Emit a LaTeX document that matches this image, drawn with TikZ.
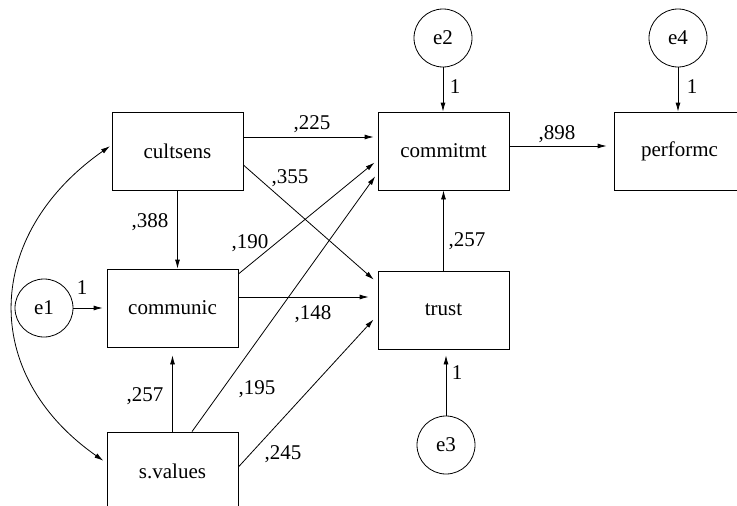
\documentclass[tikz,border=0pt]{standalone}
\usepackage{fontspec}
\setmainfont{Liberation Serif}
\usetikzlibrary{arrows.meta}
\tikzset{
  var_/.style  = {shape=rectangle, draw, minimum width=131pt, minimum height=78pt, align=center},
  err_/.style  = {shape=circle, draw, minimum size=58pt, inner sep=0pt},
  path_/.style = {draw, -{Latex[length=9pt,width=5pt]}},
  cov_/.style  = {draw, {Latex[length=9pt,width=5pt]}-{Latex[length=9pt,width=5pt]}},
  lbl_/.style  = {inner sep=0pt}
}
\begin{document}
\begin{tikzpicture}
		[
		x = 1pt, y = -1pt,
		line width = 0.8pt,
		every node/.style = {font=\fontsize{21}{25}\selectfont}
		]
		\useasboundingbox (0,0) rectangle (737,506);
		% observed variables
		\node [var_] (cultsens) at (177.5,151) {cultsens};
		\node [var_] (communic) at (172.5,308) {communic};
		\node [var_] (svalues)  at (172.5,471) {s.values};
		\node [var_] (commitmt) at (443.5,151) {commitmt};
		\node [var_] (trust)    at (443.5,310) {trust};
		\node [var_] (performc) at (679.5,151) {performc};
		% error terms
		\node [err_] (e1) at (44,308)  {e1};
		\node [err_] (e2) at (443,38)  {e2};
		\node [err_] (e3) at (446,445) {e3};
		\node [err_] (e4) at (678,38)  {e4};
		% paths
		\draw [path_, shorten >=4pt] ([yshift=14pt]cultsens.east) -- ([yshift=14pt]commitmt.west);
		\draw [path_, shorten >=5pt] ([yshift=-14pt]cultsens.east) -- ([yshift=27pt]trust.west);
		\draw [path_] (cultsens.south) -- (cultsens.south |- communic.north);
		\draw [path_, shorten >=4pt] ([yshift=34pt]communic.east) -- ([yshift=-9pt]commitmt.west);
		\draw [path_, shorten >=9pt] ([yshift=11pt]communic.east) -- ([yshift=11pt]communic.east -| trust.west);
		\draw [path_, shorten >=8pt] (svalues.north) -- (svalues.north |- communic.south);
		\draw [path_, shorten >=4pt] ([xshift=19.5pt]svalues.north) -- ([yshift=-22pt]commitmt.west);
		\draw [path_, shorten >=6pt] ([yshift=4pt]svalues.east) -- ([yshift=-5pt]trust.west);
		\draw [path_] (trust.north) -- (commitmt.south);
		\draw [path_, shorten >=7pt] ([yshift=5pt]commitmt.east) -- ([yshift=5pt]performc.west);
		\draw [path_, shorten >=4pt] (e1.east) -- (communic.west);
		\draw [path_] (e2.south) -- (e2.south |- commitmt.north);
		\draw [path_, shorten >=6pt] (e3.north) -- (e3.north |- trust.south);
		\draw [path_] (e4.south) -- (e4.south |- performc.north);
		\draw [cov_, shorten <=2pt, shorten >=4pt] ([yshift=6pt]cultsens.west)
			to [out=215, in=145, looseness=1.25] ([yshift=8pt]svalues.west);
		% estimates
		\node [lbl_] (w225) at (312,124) {,225};
		\node [lbl_] (w355) at (290,178) {,355};
		\node [lbl_] (w388) at (150,222) {,388};
		\node [lbl_] (w190) at (250,243) {,190};
		\node [lbl_] (w148) at (313,314) {,148};
		\node [lbl_] (w257a) at (145,396) {,257};
		\node [lbl_] (w195) at (257,389) {,195};
		\node [lbl_] (w245) at (283,454) {,245};
		\node [lbl_] (w257b) at (467,241) {,257};
		\node [lbl_] (w898) at (557,134) {,898};
		\node [lbl_] (f1) at (82,288)  {1};
		\node [lbl_] (f2) at (455,87)  {1};
		\node [lbl_] (f3) at (457,373) {1};
		\node [lbl_] (f4) at (692,87)  {1};
		\end{tikzpicture}
\end{document}
